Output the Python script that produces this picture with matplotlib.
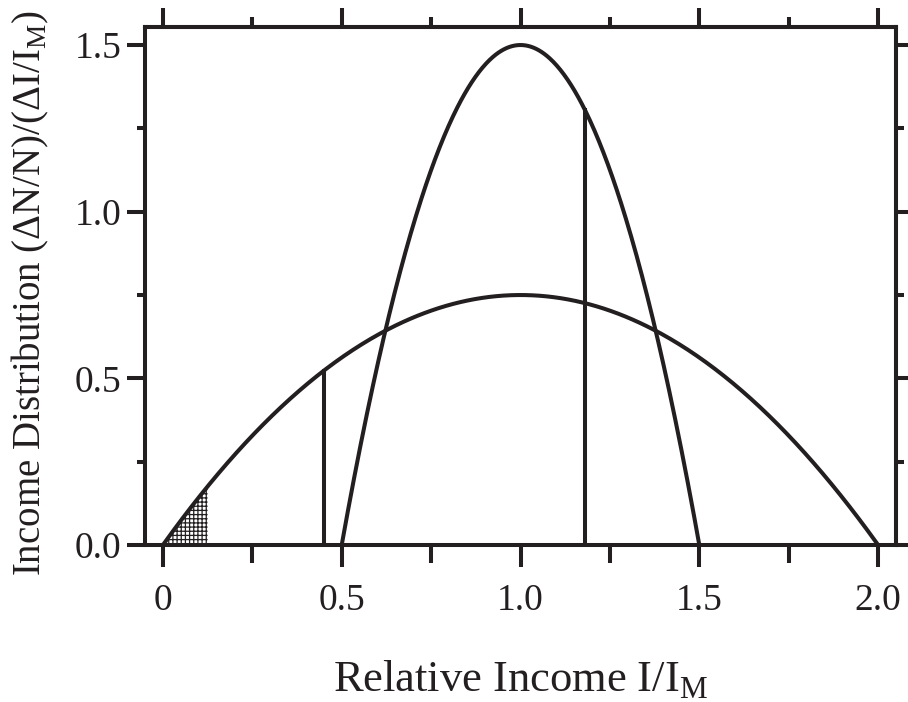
import numpy as np
import matplotlib
matplotlib.use("Agg")
import matplotlib.pyplot as plt
from matplotlib.ticker import MultipleLocator

plt.rcParams['font.family'] = ['Liberation Serif', 'DejaVu Serif']
plt.rcParams['mathtext.fontset'] = 'custom'
plt.rcParams['mathtext.rm'] = 'Liberation Serif'
plt.rcParams['hatch.linewidth'] = 0.9
INK = '#231f20'
plt.rcParams['hatch.color'] = INK

# Parabolic income distributions: centre, half-width and peak value
centres = [1.0, 1.0]
half_widths = [1.0, 0.5]
peaks = [0.75, 1.5]

# Vertical markers: income position and which curve they reach
marker_x = [0.45, 1.18]
marker_curve = [0, 1]

# Shaded low-income tail of the wide distribution
shade_range = [0.0, 0.125]

xticks = [0, 0.5, 1.0, 1.5, 2.0]
xtick_labels = ["0", "0.5", "1.0", "1.5", "2.0"]
yticks = [0.0, 0.5, 1.0, 1.5]
ytick_labels = ["0.0", "0.5", "1.0", "1.5"]


def curve(x, i):
    u = (np.asarray(x) - centres[i]) / half_widths[i]
    return peaks[i] * (1.0 - u ** 2)


fig = plt.figure(figsize=(9.08, 7.02), dpi=100)
ax = fig.add_axes([0.1597, 0.2236, 0.9868 - 0.1597, 0.9615 - 0.2236])

lw = 2.9
for i in range(len(peaks)):
    xs = np.linspace(centres[i] - half_widths[i], centres[i] + half_widths[i], 400)
    ax.plot(xs, curve(xs, i), color=INK, lw=lw, solid_capstyle='butt', zorder=3)

for xm, ci in zip(marker_x, marker_curve):
    ax.plot([xm, xm], [0, float(curve(xm, ci))], color=INK, lw=lw, zorder=3)

xs = np.linspace(shade_range[0], shade_range[1], 50)
ax.fill_between(xs, 0, curve(xs, 0), facecolor='white', edgecolor=INK,
                hatch='++++', linewidth=0, zorder=2)

ax.set_xlim(-0.05, 2.05)
ax.set_ylim(0, 1.554)

for s in ax.spines.values():
    s.set_linewidth(lw)
    s.set_color(INK)

ax.set_xticks(xticks)
ax.set_xticklabels(xtick_labels)
ax.set_yticks(yticks)
ax.set_yticklabels(ytick_labels)
ax.xaxis.set_minor_locator(MultipleLocator(0.25))
ax.yaxis.set_minor_locator(MultipleLocator(0.25))

ax.tick_params(axis='x', which='major', direction='out', length=16, width=lw,
               labelsize=27, pad=12, color=INK)
ax.tick_params(axis='x', which='minor', direction='out', length=13, width=lw, color=INK)
ax.tick_params(axis='y', which='major', direction='out', length=13, width=lw,
               labelsize=27, pad=4, color=INK)
ax.tick_params(axis='y', which='minor', direction='out', length=6, width=lw, color=INK)

# Top and right axes carry their own, shorter outward ticks
top = ax.secondary_xaxis('top')
top.set_xticks(xticks)
top.xaxis.set_minor_locator(MultipleLocator(0.25))
top.tick_params(axis='x', which='major', direction='out', length=14, width=lw,
                labeltop=False, color=INK)
top.tick_params(axis='x', which='minor', direction='out', length=7, width=lw, color=INK)
top.spines['top'].set_linewidth(lw)
top.spines['top'].set_color(INK)

right = ax.secondary_yaxis('right')
right.set_yticks(yticks)
right.yaxis.set_minor_locator(MultipleLocator(0.25))
right.tick_params(axis='y', which='major', direction='out', length=9, width=lw,
                  labelright=False, color=INK)
right.tick_params(axis='y', which='minor', direction='out', length=6, width=lw, color=INK)
right.spines['right'].set_linewidth(lw)
right.spines['right'].set_color(INK)

ax.set_xlabel(r'Relative Income I/I$_{\mathrm{M}}$', fontsize=32, color=INK, va='top')
ax.xaxis.set_label_coords(0.5, -0.22)
ax.set_ylabel(r'Income Distribution ($\Delta$N/N)/($\Delta$I/I$_{\mathrm{M}}$)',
              fontsize=28, color=INK)
ax.yaxis.set_label_coords(-0.125, 0.486)

for t in ax.get_xticklabels() + ax.get_yticklabels():
    t.set_color(INK)

fig.savefig('out.png', dpi=100)
